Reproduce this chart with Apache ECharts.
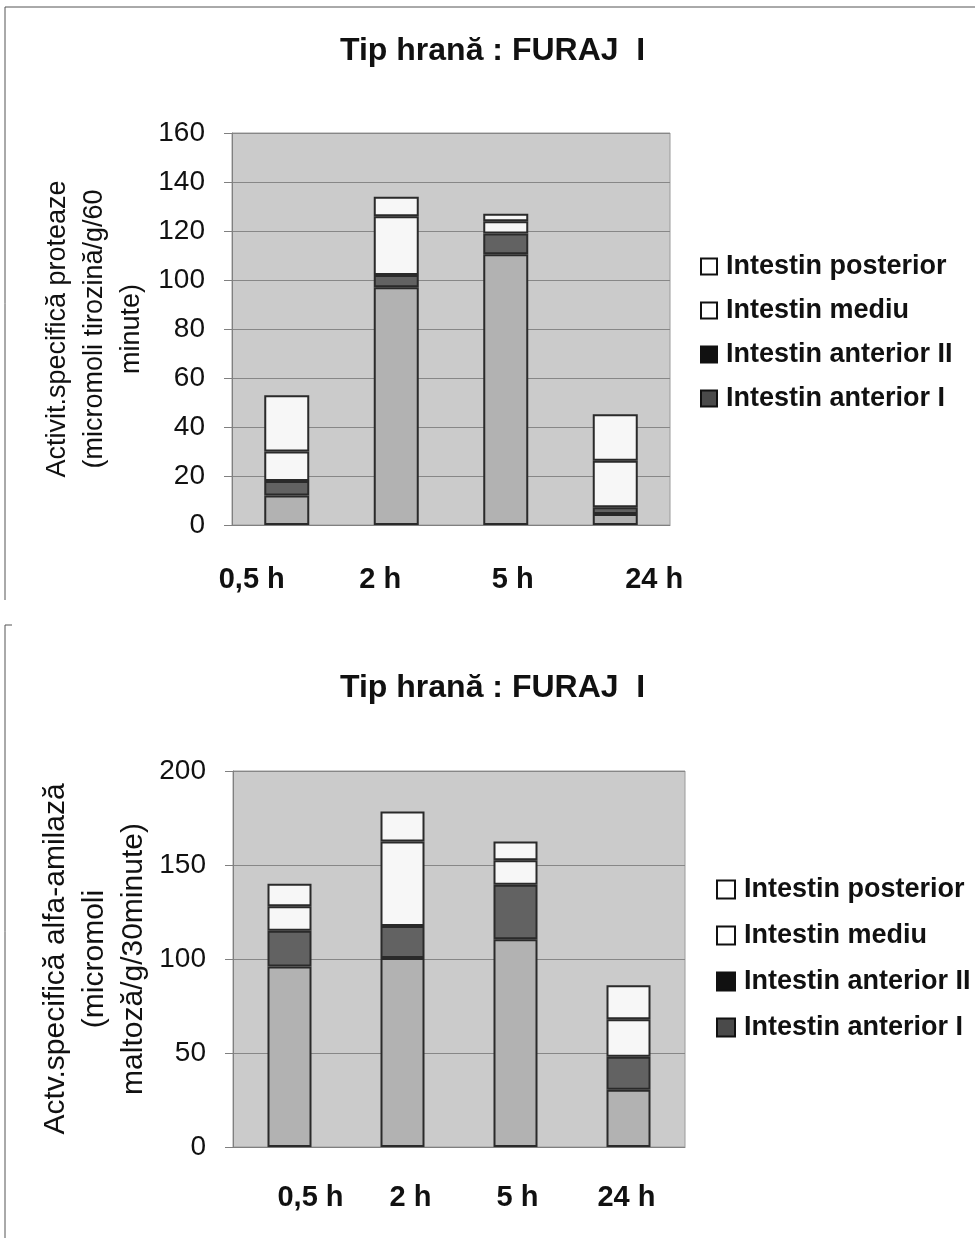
<!DOCTYPE html>
<html>
<head>
<meta charset="utf-8">
<script src="https://cdn.jsdelivr.net/npm/echarts@6/dist/echarts.min.js"></script>
<style>
    html, body { margin: 0; padding: 0; background: #fff; }
    #chart { width: 975px; height: 1238px; }
</style>
</head>
<body>
<div id="chart"></div>
<script>
// categorii (timp)
const hours = ['0,5 h', '2 h', '5 h', '24 h']
const seriesNames = ['Intestin anterior I', 'Intestin anterior II', 'Intestin mediu', 'Intestin posterior']

// proteaze (micromoli tirozina/g/60 minute)
const protAnterior1 = [12, 97, 110.5, 4.5]
const protAnterior2 = [6, 5, 8.5, 2.7]
const protMediu = [12, 24, 5, 19]
const protPosterior = [23, 8, 3, 19]

// alfa-amilaza (micromoli maltoza/g/30minute)
const amilAnterior1 = [96, 100.5, 110.5, 30.5]
const amilAnterior2 = [19, 17, 29, 17.5]
const amilMediu = [13, 45, 13, 20]
const amilPosterior = [12, 16, 10, 18]

const font = 'Arial, "Liberation Sans", sans-serif'
const narrow = '"Liberation Sans Narrow", "Arial Narrow", Arial, sans-serif'
const fills = ['#b2b2b2', '#626262', '#f7f7f7', '#f7f7f7']
const legendIcons = ['#4a4a4a', '#111111', '#ffffff', '#ffffff']

let myChart = echarts.init(document.getElementById('chart'))

function makeSeries(data, idx) {
    // o serie pe fiecare grafic, stivuite
    let out = []
    data.forEach((vals, i) => {
        out.push({
            name: seriesNames[i],
            type: 'bar',
            stack: 'g' + idx,
            xAxisIndex: idx,
            yAxisIndex: idx,
            barWidth: idx === 0 ? 45 : 44,
            itemStyle: {
                color: fills[i],
                borderColor: '#2a2a2a',
                borderWidth: 2
            },
            emphasis: { disabled: true },
            data: vals
        })
    })
    return out
}

function makeLegend(left, top, gap, size) {
    return {
        orient: 'vertical',
        left: left,
        top: top,
        itemGap: gap,
        itemWidth: size,
        itemHeight: size,
        selectedMode: false,
        textStyle: { fontFamily: font, fontSize: 27, fontWeight: 'bold', color: '#111', padding: [0, 0, 0, 4] },
        data: seriesNames.slice().reverse().map((n, k) => ({
            name: n,
            icon: 'rect',
            itemStyle: { color: legendIcons[3 - k], borderColor: '#111', borderWidth: 2 }
        }))
    }
}

// etichete pe axa x, usor decalate ca in original
function catLabel(shifts, margin) {
    let rich = {}
    shifts.forEach((s, i) => {
        rich['l' + i] = {
            fontFamily: font, fontSize: 29, fontWeight: 'bold', color: '#111',
            padding: s < 0 ? [0, -2 * s, 0, 0] : [0, 0, 0, 2 * s]
        }
    })
    return {
        fontFamily: font, fontSize: 29, fontWeight: 'bold', color: '#111',
        margin: margin,
        interval: 0,
        hideOverlap: false,
        formatter: (v, i) => '{l' + i + '|' + v + '}',
        rich: rich
    }
}

const tickLabel = { fontFamily: font, fontSize: 28, color: '#111', margin: 27 }
const titleStyle = { fontFamily: narrow, fontSize: 32, fontWeight: 'bold', color: '#111' }

let option = {
    animation: false,
    title: [
        { text: 'Tip hrană : FURAJ  I', left: 335, top: 30, textStyle: titleStyle },
        { text: 'Tip hrană : FURAJ  I', left: 335, top: 667, textStyle: titleStyle }
    ],
    legend: [
        makeLegend(695, 248, 17, 16),
        makeLegend(711, 871, 19, 18)
    ],
    grid: [
        { left: 232, top: 133, width: 438, height: 392, outerBoundsMode: 'none', show: true, backgroundColor: '#cbcbcb', borderColor: '#9a9a9a', borderWidth: 1 },
        { left: 233, top: 771, width: 452, height: 376, outerBoundsMode: 'none', show: true, backgroundColor: '#cbcbcb', borderColor: '#9a9a9a', borderWidth: 1 }
    ],
    xAxis: [
        {
            type: 'category',
            gridIndex: 0,
            data: hours,
            axisLine: { show: true, lineStyle: { color: '#808080', width: 1 } },
            axisTick: { show: false },
            axisLabel: catLabel([-35, -16, 7, 39], 40)
        },
        {
            type: 'category',
            gridIndex: 1,
            data: hours,
            axisLine: { show: true, lineStyle: { color: '#808080', width: 1 } },
            axisTick: { show: false },
            axisLabel: catLabel([21, 8, 2, -2], 36)
        }
    ],
    yAxis: [
        {
            type: 'value',
            gridIndex: 0,
            min: 0,
            max: 160,
            interval: 20,
            name: 'Activit.specifică proteaze\n(micromoli tirozină/g/60\nminute)',
            nameLocation: 'middle',
            nameGap: 82,
            nameTextStyle: { fontFamily: font, fontSize: 27, color: '#111', lineHeight: 37 },
            axisLine: { show: true, lineStyle: { color: '#808080' } },
            axisTick: { show: true, length: 8, lineStyle: { color: '#808080' } },
            axisLabel: tickLabel,
            splitLine: { lineStyle: { color: '#878787', width: 1 } }
        },
        {
            type: 'value',
            gridIndex: 1,
            min: 0,
            max: 200,
            interval: 50,
            name: 'Actv.specifică alfa-amilază\n(micromoli\nmaltoză/g/30minute)',
            nameLocation: 'middle',
            nameGap: 80,
            nameTextStyle: { fontFamily: font, fontSize: 30, color: '#111', lineHeight: 39 },
            axisLine: { show: true, lineStyle: { color: '#808080' } },
            axisTick: { show: true, length: 8, lineStyle: { color: '#808080' } },
            axisLabel: tickLabel,
            splitLine: { lineStyle: { color: '#878787', width: 1 } }
        }
    ],
    graphic: [
        // rama din scan
        { type: 'polyline', shape: { points: [[975, 7], [5, 7], [5, 600]] }, style: { stroke: '#555', lineWidth: 1, fill: null }, silent: true },
        { type: 'polyline', shape: { points: [[5, 1238], [5, 625], [12, 625]] }, style: { stroke: '#555', lineWidth: 1, fill: null }, silent: true }
    ],
    series: [
        ...makeSeries([protAnterior1, protAnterior2, protMediu, protPosterior], 0),
        ...makeSeries([amilAnterior1, amilAnterior2, amilMediu, amilPosterior], 1)
    ]
}
myChart.setOption(option)
</script>
</body>
</html>
